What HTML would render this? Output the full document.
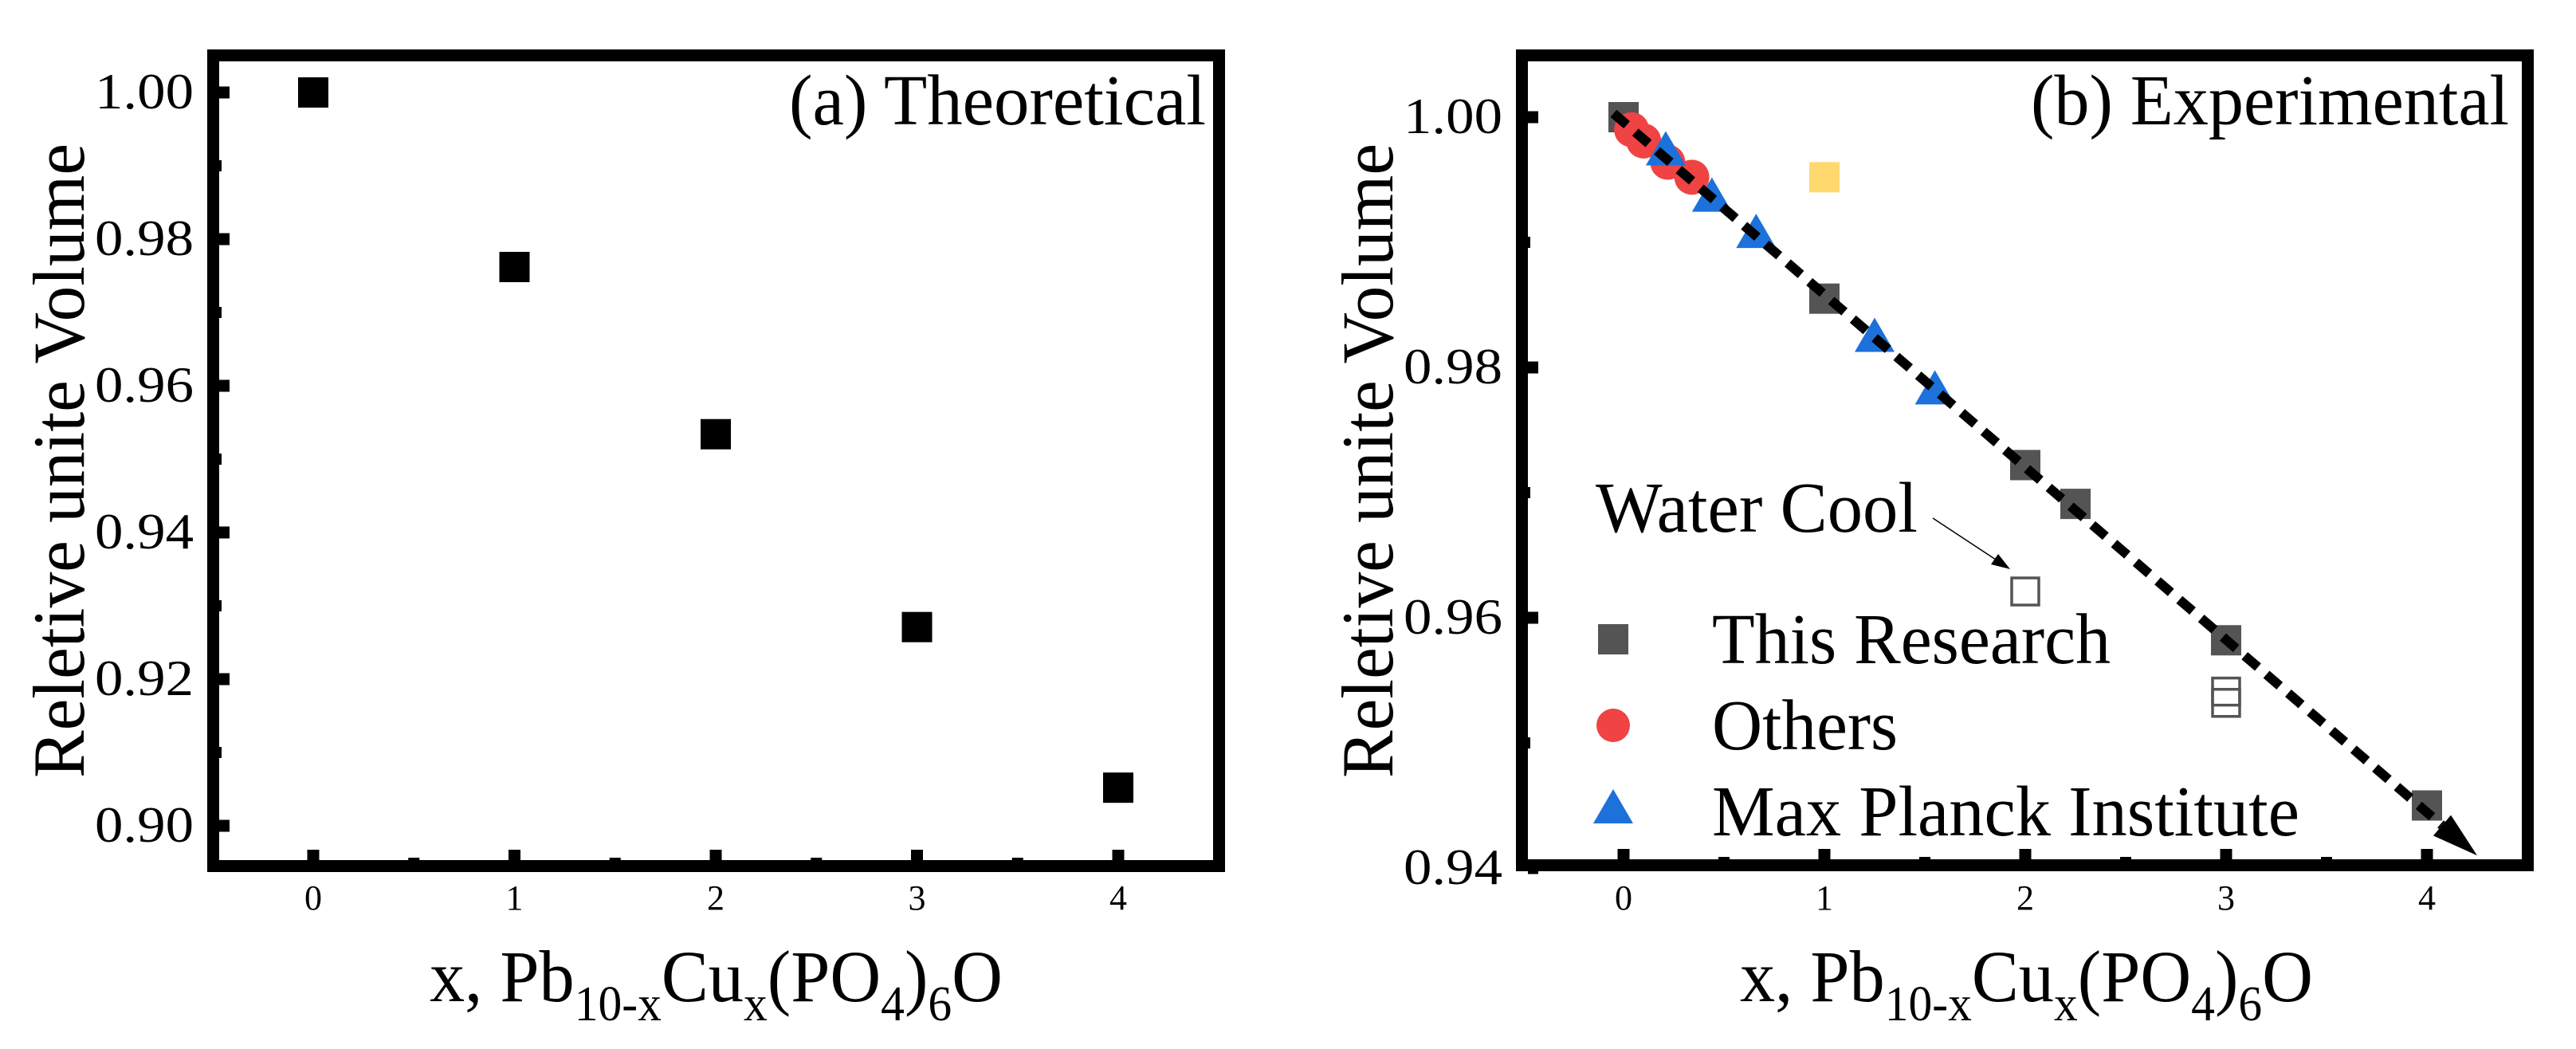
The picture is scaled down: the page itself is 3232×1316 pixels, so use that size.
<!DOCTYPE html>
<html><head><meta charset="utf-8"><style>
html,body{margin:0;padding:0;background:#fff;}
svg{display:block;}
svg text{font-family:"Liberation Serif","Times New Roman",Times,serif;fill:#000;}
</style></head><body>
<svg id="fig" width="3232" height="1316" viewBox="0 0 3232 1316" xmlns="http://www.w3.org/2000/svg" font-family="Liberation Serif, Times New Roman, serif">
<g id="pa"></g>
<g id="pb"></g>
</svg>
<script>
// Panel (a) data
const aX = [0, 1, 2, 3, 4];
const aY = [1.000, 0.9762, 0.9534, 0.9271, 0.9052];
const aYTicks = [1.00, 0.98, 0.96, 0.94, 0.92, 0.90];
const aYTickLabels = ["1.00", "0.98", "0.96", "0.94", "0.92", "0.90"];
const aYMinor = [0.99, 0.97, 0.95, 0.93, 0.91];
const xTicks = [0, 1, 2, 3, 4];
const xTickLabels = ["0", "1", "2", "3", "4"];
const xMinor = [0.5, 1.5, 2.5, 3.5];
// Panel (b) data
const thisX = [0, 1, 2, 2.25, 3, 4];
const thisY = [1.000, 0.9855, 0.9722, 0.9691, 0.9582, 0.9450];
const othersX = [0.04, 0.10, 0.22, 0.34];
const othersY = [0.9990, 0.9981, 0.9964, 0.9952];
const mpiX = [0.21, 0.44, 0.66, 1.25, 1.55];
const mpiY = [0.9971, 0.9934, 0.9905, 0.9822, 0.9780];
const coolX = [2, 3, 3];
const coolY = [0.9621, 0.9541, 0.9532];
const yellowX = [1];
const yellowY = [0.9952];
const bYTicks = [1.00, 0.98, 0.96, 0.94];
const bYTickLabels = ["1.00", "0.98", "0.96", "0.94"];
const bYMinor = [0.99, 0.97, 0.95];
const trendX = [-0.05, 4.25];
const trendY = [1.0003, 0.9410];

const NS = "http://www.w3.org/2000/svg";
const FONT = '"Liberation Serif", "Times New Roman", serif';
function mk(parent, tag, attrs, txt) {
  const e = document.createElementNS(NS, tag);
  for (const k in attrs) e.setAttribute(k, attrs[k]);
  if (tag === "text") e.setAttribute("style", "font-family:" + FONT);
  if (txt !== undefined) e.textContent = txt;
  parent.appendChild(e);
  return e;
}
const xA = v => 393 + v * 252.5;
const yA = v => 116 + (1.0 - v) * 9200;
const xB = v => 2037 + v * 252;
const yB = v => 147 + (1.0 - v) * 15700;

function frame(g, L, T, R, B, X, tickVals, tickLabs, minor, Y, yTicks, yLabs, yMinor, nm) {
  const fr = mk(g, "rect", {x: L + 7.5, y: T + 7.5, width: R - L - 15, height: B - T - 15, fill: "none", stroke: "#000", "stroke-width": 15});
  
  
  const inB = B - 15, inL = L + 15;
  tickVals.forEach((v, i) => {
    const t = mk(g, "rect", {x: X(v) - 7.5, y: inB - 13, width: 15, height: 13, fill: "#000"});
    
    
    const l = mk(g, "text", {x: X(v), y: 1141, "font-size": 44, "text-anchor": "middle"}, tickLabs[i]);
    
    
  });
  minor.forEach(v => {
    const t = mk(g, "rect", {x: X(v) - 7, y: inB - 3, width: 14, height: 3, fill: "#000"});
    
    
  });
  yTicks.forEach((v, i) => {
    const t = mk(g, "rect", {x: inL, y: Y(v) - 7.5, width: 13, height: 15, fill: "#000"});
    
    
    const l = mk(g, "text", {x: L - 17, y: Y(v) + 20, "font-size": 64, "text-anchor": "end", textLength: 124, lengthAdjust: "spacingAndGlyphs"}, yLabs[i]);
    
    
  });
  yMinor.forEach(v => {
    const t = mk(g, "rect", {x: inL, y: Y(v) - 7, width: 3, height: 14, fill: "#000"});
    
    
  });
}
function xTitle(g, x0, nm) {
  const t = mk(g, "text", {x: x0, y: 1256, "font-size": 92, textLength: 719, lengthAdjust: "spacingAndGlyphs"});
  
  
  const parts = [["x, Pb", 0], ["10-x", 1], ["Cu", 0], ["x", 1], ["(PO", 0], ["4", 1], [")", 0], ["6", 1], ["O", 0]];
  const spans = parts.map(p => {
    const s = document.createElementNS(NS, "tspan");
    if (p[1]) s.setAttribute("font-size", "62");
    s.textContent = p[0];
    t.appendChild(s);
    return s;
  });
  for (let i = 1; i < spans.length; i++) {
    if (parts[i][1] && !parts[i - 1][1]) spans[i].setAttribute("dy", "24");
    if (!parts[i][1] && parts[i - 1][1]) spans[i].setAttribute("dy", "-24");
  }
}
function yTitle(g, x, nm) {
  const t = mk(g, "text", {x: 0, y: 0, "font-size": 92, "text-anchor": "middle", textLength: 796, lengthAdjust: "spacingAndGlyphs", transform: `translate(${x},578) rotate(-90)`}, "Reletive unite Volume");
  
  
}

// ---- Panel a
const pa = document.getElementById("pa");
frame(pa, 260, 62, 1537, 1094, xA, xTicks, xTickLabels, xMinor, yA, aYTicks, aYTickLabels, aYMinor, "panel-a");
aX.forEach((v, i) => {
  const r = mk(pa, "rect", {x: xA(v) - 19, y: yA(aY[i]) - 19, width: 38, height: 38, fill: "#000"});
  
  
});
const ta = mk(pa, "text", {x: 1513, y: 156, "font-size": 90, "text-anchor": "end", textLength: 523, lengthAdjust: "spacingAndGlyphs"}, "(a) Theoretical");


yTitle(pa, 105, "panel-a");
xTitle(pa, 539, "panel-a");

// ---- Panel b
const pb = document.getElementById("pb");
frame(pb, 1902, 62, 3179, 1093, xB, xTicks, xTickLabels, xMinor, yB, bYTicks, bYTickLabels, bYMinor, "panel-b");
const GRAY = "#545454", RED = "#F04343", BLUE = "#1C71DB", YEL = "#FFD970";
thisX.forEach((v, i) => {
  const r = mk(pb, "rect", {x: xB(v) - 19, y: yB(thisY[i]) - 19, width: 38, height: 38, fill: GRAY});
  
  
});
yellowX.forEach((v, i) => {
  const r = mk(pb, "rect", {x: xB(v) - 19, y: yB(yellowY[i]) - 19, width: 38, height: 38, fill: YEL});
  
  
});
coolX.forEach((v, i) => {
  const r = mk(pb, "rect", {x: xB(v) - 17, y: yB(coolY[i]) - 17, width: 34, height: 34, fill: "none", stroke: GRAY, "stroke-width": 3.5});
  
  
});
othersX.forEach((v, i) => {
  const c = mk(pb, "circle", {cx: xB(v), cy: yB(othersY[i]), r: 22, fill: RED});
  
  
});
function tri(cx, cy) { return `${cx},${cy - 28} ${cx - 25},${cy + 15} ${cx + 25},${cy + 15}`; }
mpiX.forEach((v, i) => {
  const p = mk(pb, "polygon", {points: tri(xB(v), yB(mpiY[i])), fill: BLUE});
  
  
});
// trend arrow
(function () {
  const x1 = xB(trendX[0]), y1 = yB(trendY[0]), x2 = xB(trendX[1]), y2 = yB(trendY[1]);
  const dx = x2 - x1, dy = y2 - y1, L = Math.hypot(dx, dy), ux = dx / L, uy = dy / L;
  const bx = x2 - ux * 58, by = y2 - uy * 58;
  const ln = mk(pb, "line", {x1: x1, y1: y1, x2: bx, y2: by, stroke: "#000", "stroke-width": 12, "stroke-dasharray": "22 14"});
  
  
  const hw = 17;
  const hd = mk(pb, "polygon", {points: `${x2},${y2} ${bx - uy * hw},${by + ux * hw} ${bx + uy * hw},${by - ux * hw}`, fill: "#000"});
  
  
})();
const tb = mk(pb, "text", {x: 3148, y: 156, "font-size": 90, "text-anchor": "end", textLength: 600, lengthAdjust: "spacingAndGlyphs"}, "(b) Experimental");


yTitle(pb, 1747, "panel-b");
xTitle(pb, 2183, "panel-b");
// annotation
const wc = mk(pb, "text", {x: 2002, y: 667, "font-size": 90, textLength: 404, lengthAdjust: "spacingAndGlyphs"}, "Water Cool");


const al = mk(pb, "line", {x1: 2425, y1: 650, x2: 2510, y2: 706, stroke: "#000", "stroke-width": 1.5});


const ah = mk(pb, "polygon", {points: "2522,714 2498,708 2507,695", fill: "#000"});


// legend
const lg = mk(pb, "g", {});


const l1 = mk(lg, "rect", {x: 2005, y: 783, width: 38, height: 38, fill: GRAY});


const t1 = mk(lg, "text", {x: 2148, y: 832, "font-size": 90, textLength: 500, lengthAdjust: "spacingAndGlyphs"}, "This Research");


const l2 = mk(lg, "circle", {cx: 2024, cy: 910, r: 21, fill: RED});


const t2 = mk(lg, "text", {x: 2148, y: 940, "font-size": 90, textLength: 233, lengthAdjust: "spacingAndGlyphs"}, "Others");


const l3 = mk(lg, "polygon", {points: "2024,990 1999,1033 2049,1033", fill: BLUE});


const t3 = mk(lg, "text", {x: 2148, y: 1048, "font-size": 90, textLength: 737, lengthAdjust: "spacingAndGlyphs"}, "Max Planck Institute");


</script>
</body></html>
